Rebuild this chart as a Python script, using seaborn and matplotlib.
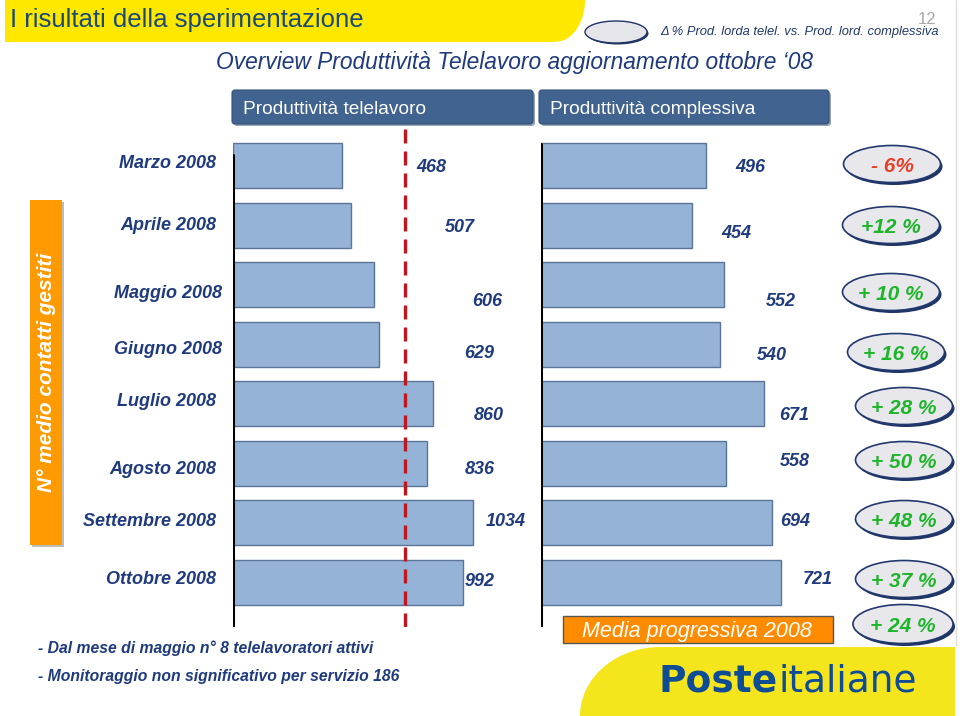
import matplotlib
matplotlib.use("Agg")
import matplotlib.pyplot as plt
import seaborn as sns
import numpy as np
import pandas as pd
from matplotlib.patches import Ellipse, Polygon, FancyBboxPatch, Rectangle

# ---------------- data ----------------
months = ["Marzo 2008", "Aprile 2008", "Maggio 2008", "Giugno 2008",
          "Luglio 2008", "Agosto 2008", "Settembre 2008", "Ottobre 2008"]
prod_tele = [468, 507, 606, 629, 860, 836, 1034, 992]
prod_comp = [496, 454, 552, 540, 671, 558, 694, 721]
delta_labels = ["- 6%", "+12 %", "+ 10 %", "+ 16 %", "+ 28 %", "+ 50 %", "+ 48 %", "+ 37 %"]
media_label = "Media progressiva 2008"
media_delta = "+ 24 %"
header_tele = "Produttività telelavoro"
header_comp = "Produttività complessiva"
title = "I risultati della sperimentazione"
subtitle = "Overview Produttività Telelavoro aggiornamento ottobre \u201808"
legend_txt = "\u0394 % Prod. lorda telel. vs. Prod. lord. complessiva"
ylabel = "N° medio contatti gestiti"
notes = ["- Dal mese di maggio n° 8 telelavoratori attivi",
         "- Monitoraggio non significativo per servizio 186"]

# ---------------- layout (pixels) ----------------
month_lbl_y = [162, 223, 292, 347, 399, 467, 519, 578]
month_lbl_x = [216, 216, 222, 222, 216, 216, 216, 216]
tele_lbl = [(431, 165), (460, 225), (487, 299), (479, 352), (489, 413), (480, 467), (506, 519), (480, 579)]
comp_lbl = [(750, 165), (736, 232), (781, 299), (772, 353), (794, 414), (795, 459), (795, 519), (818, 578)]
oval_c = [(892, 164), (891, 225), (891, 292), (896, 352), (904, 406), (904, 460), (904, 519), (904, 579)]

sns.set_theme(style="white")
FONT = ["Liberation Sans", "DejaVu Sans"]
plt.rcParams["font.family"] = FONT

navy = "#1F3A7D"
bar_fill = "#95B3D7"
bar_edge = "#5B7598"
green = "#1FB52A"
red_txt = "#E8412A"
VA = "center_baseline"

W, H = 960, 716
fig = plt.figure(figsize=(9.6, 7.16), dpi=100)
fig.patch.set_facecolor("white")
bg = fig.add_axes([0, 0, 1, 1])
bg.set_xlim(0, W)
bg.set_ylim(H, 0)
bg.axis("off")


def fax(x0, y0, x1, y1):
    return [x0 / W, 1 - y1 / H, (x1 - x0) / W, (y1 - y0) / H]


# ---- title bar ----
ys = np.linspace(0, 42, 30)
curve = [(555 + 30 * np.sqrt(max(0.0, 1 - (y / 42) ** 2)), y) for y in ys]
bg.add_patch(Polygon([(5, 0)] + curve + [(5, 42)], closed=True, fc="#FFE800", ec="none"))
bg.text(10, 18, title, fontsize=18.5, color="#1A4A7A", va=VA, ha="left")

# legend icon
bg.add_patch(Ellipse((617.5, 33.5), 62, 22, fc="#1F3566", ec="none"))
bg.add_patch(Ellipse((616, 32), 62, 22, fc="#E6E6EA", ec="#1F3566", lw=1))
bg.text(660, 30, legend_txt, fontsize=9.3, style="italic", color="#1F3A6E", va=VA, ha="left")
bg.text(927, 18, "12", fontsize=12, color="#A8A8A8", va=VA, ha="center")
bg.plot([956, 956], [0, 645], color="#DDDDDD", lw=1)

bg.text(515, 60, subtitle, fontsize=16.4, style="italic", color=navy, va=VA, ha="center")

# header boxes
for (x0, x1, txt) in [(232, 533, header_tele), (539, 829, header_comp)]:
    bg.add_patch(FancyBboxPatch((x0 + 2, 92), x1 - x0, 34, boxstyle="round,pad=0,rounding_size=3",
                                fc="#9AA7B8", ec="none"))
    bg.add_patch(FancyBboxPatch((x0, 90), x1 - x0, 34, boxstyle="round,pad=0,rounding_size=3",
                                fc="#41638F", ec="#33507A", lw=0.8))
    bg.text(x0 + 11, 107.5, txt, fontsize=13.8, color="white", va=VA, ha="left")

# orange vertical box
bg.add_patch(Rectangle((32, 202), 32, 345, fc="#BDBDBD", ec="none"))
bg.add_patch(Rectangle((30, 200), 32, 345, fc="#FF9A00", ec="none"))
bg.text(47, 372, ylabel, fontsize=15, fontweight="bold", style="italic", color="white",
        rotation=90, va="center", ha="center")

# month labels
for m, x, y in zip(months, month_lbl_x, month_lbl_y):
    bg.text(x, y, m, fontsize=13, fontweight="bold", style="italic", color=navy, va=VA, ha="right")

# value labels
for v, (x, y) in zip(prod_tele, tele_lbl):
    bg.text(x, y, str(v), fontsize=13, fontweight="bold", style="italic", color=navy, va=VA, ha="center")
for v, (x, y) in zip(prod_comp, comp_lbl):
    bg.text(x, y, str(v), fontsize=13, fontweight="bold", style="italic", color=navy, va=VA, ha="center")


# ovals
def oval(cx, cy, txt, col, w=97, h=37):
    bg.add_patch(Ellipse((cx + 2, cy + 2.5), w, h, fc="#1F3566", ec="none"))
    bg.add_patch(Ellipse((cx, cy), w, h, fc="#E7E7EC", ec="#22396E", lw=1.2))
    bg.text(cx, cy + 0.5, txt, fontsize=15, fontweight="bold", style="italic", color=col, va=VA, ha="center")


for (cx, cy), t in zip(oval_c, delta_labels):
    oval(cx, cy, t, red_txt if t.strip().startswith("-") else green)
oval(903, 624, media_delta, green, w=100, h=39)

# media progressiva box
bg.add_patch(Rectangle((563, 616), 270, 27, fc="#FF8C00", ec="#555555", lw=1))
bg.text(697, 629.5, media_label, fontsize=15.5, style="italic", color="white", va=VA, ha="center")

# notes
bg.text(38, 647, notes[0], fontsize=11.3, fontweight="bold", style="italic", color=navy, va=VA, ha="left")
bg.text(38, 675, notes[1], fontsize=11.3, fontweight="bold", style="italic", color=navy, va=VA, ha="left")

# logo
th = np.linspace(np.pi, np.pi / 2, 30)
logo_pts = [(580, 716)] + [(660 + 80 * np.cos(t), 716 - 69 * np.sin(t)) for t in th] + [(955, 647), (955, 716)]
bg.add_patch(Polygon(logo_pts, closed=True, fc="#F5E51C", ec="none"))
bg.text(778, 677, "Poste", fontsize=27, fontweight="bold", color="#0F4C96", family="DejaVu Sans",
        va=VA, ha="right")
bg.text(778, 677, "italiane", fontsize=27, color="#0F4C96", family="DejaVu Sans",
        va=VA, ha="left")

# ---------------- bar panels ----------------
df = pd.DataFrame({"mese": months, "tele": prod_tele, "comp": prod_comp})

axL = fig.add_axes(fax(233, 128, 530, 627))
axR = fig.add_axes(fax(541, 128, 830, 627))
for ax, col, xmax in [(axL, "tele", 1280), (axR, "comp", 870)]:
    sns.barplot(data=df, x=col, y="mese", orient="h", ax=ax, color=bar_fill, saturation=1,
                width=0.76, edgecolor=bar_edge, linewidth=1)
    ax.set_xlim(0, xmax)
    ax.set_ylim(7.75, -0.632)
    ax.axis("off")
    ax.patch.set_alpha(0)

axL.axvline(0, ymin=0, ymax=0.946, color="black", lw=2.2, zorder=4)
axR.axvline(0, ymin=0, ymax=0.968, color="black", lw=2.2, zorder=4)
axL.axvline(np.mean(prod_tele), ymin=0, ymax=1, color="#C0161E", lw=2.4,
            ls=(0, (4.2, 2.4)), zorder=6)

fig.savefig("out.png", dpi=100, facecolor="white")
